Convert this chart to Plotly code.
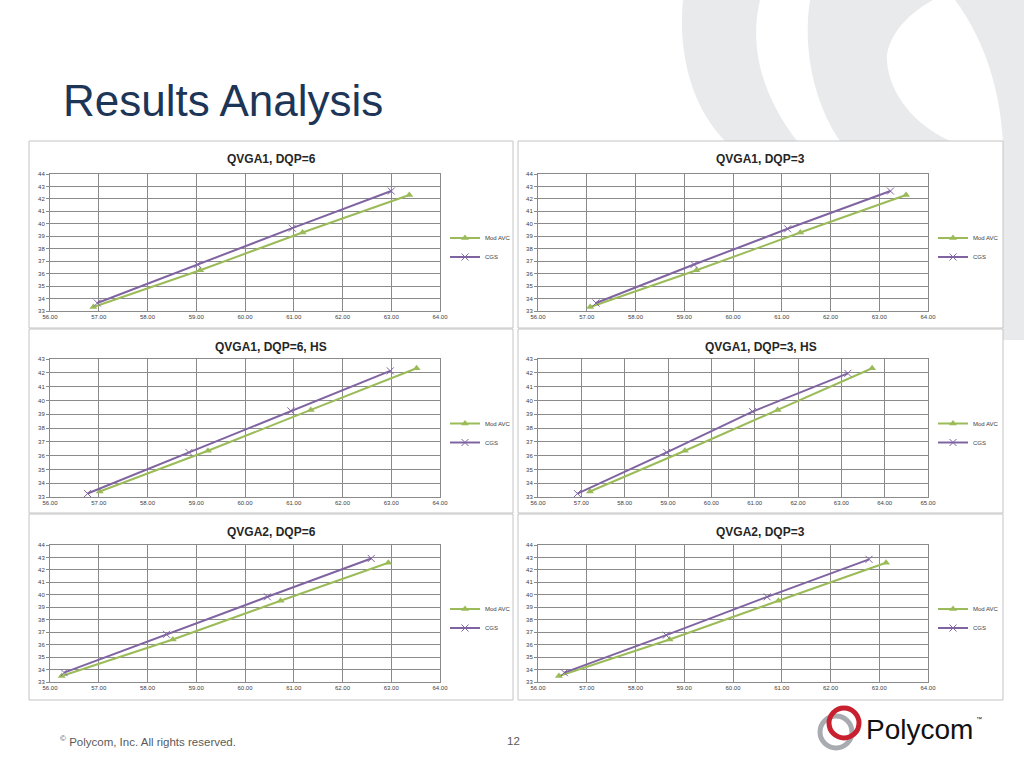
import plotly.graph_objects as go

# chart data
titles = ["QVGA1, DQP=6", "QVGA1, DQP=3", "QVGA1, DQP=6, HS",
          "QVGA1, DQP=3, HS", "QVGA2, DQP=6", "QVGA2, DQP=3"]
series_names = ["Mod AVC", "CGS"]

mod_x1 = [56.89, 59.08, 61.18, 63.37]
mod_y1 = [33.32, 36.27, 39.30, 42.31]
cgs_x1 = [56.97, 59.03, 60.97, 63.00]
cgs_y1 = [33.64, 36.73, 39.65, 42.63]

mod_x2 = [57.07, 59.25, 61.38, 63.55]
mod_y2 = [33.32, 36.27, 39.30, 42.31]
cgs_x2 = [57.19, 59.20, 61.12, 63.23]
cgs_y2 = [33.64, 36.73, 39.60, 42.63]

mod_x3 = [57.02, 59.24, 61.35, 63.52]
mod_y3 = [33.40, 36.35, 39.31, 42.33]
cgs_x3 = [56.77, 58.85, 60.94, 62.98]
cgs_y3 = [33.25, 36.23, 39.24, 42.14]

mod_x4 = [57.20, 59.39, 61.53, 63.71]
mod_y4 = [33.40, 36.35, 39.31, 42.33]
cgs_x4 = [56.91, 58.97, 60.95, 63.15]
cgs_y4 = [33.25, 36.23, 39.19, 41.96]

mod_x5 = [56.24, 58.52, 60.73, 62.94]
mod_y5 = [33.48, 36.41, 39.52, 42.58]
cgs_x5 = [56.29, 58.39, 60.46, 62.59]
cgs_y5 = [33.75, 36.83, 39.84, 42.92]

mod_x6 = [56.43, 58.70, 60.93, 63.14]
mod_y6 = [33.48, 36.41, 39.52, 42.58]
cgs_x6 = [56.54, 58.63, 60.70, 62.79]
cgs_y6 = [33.75, 36.76, 39.84, 42.85]

x_ranges = [[56, 64], [56, 64], [56, 64], [56, 65], [56, 64], [56, 64]]
y_ranges = [[33, 44], [33, 44], [33, 43], [33, 43], [33, 44], [33, 44]]

mods = [(mod_x1, mod_y1), (mod_x2, mod_y2), (mod_x3, mod_y3),
        (mod_x4, mod_y4), (mod_x5, mod_y5), (mod_x6, mod_y6)]
cgss = [(cgs_x1, cgs_y1), (cgs_x2, cgs_y2), (cgs_x3, cgs_y3),
        (cgs_x4, cgs_y4), (cgs_x5, cgs_y5), (cgs_x6, cgs_y6)]

W, H = 1024, 768
GREEN = "#9bbb59"
PURPLE = "#8064a2"
GRID = "#8a8a8a"


def px(p):
    return p / W


def py(p):
    return 1 - p / H


# page layout in pixels
cols = [(50, 440), (538, 928)]
rows = [(174, 311), (359, 497), (545, 682)]
panel_cols = [(29, 513), (518, 1003)]
panel_rows = [(141, 328), (329, 513), (514, 700)]

fig = go.Figure()
layout = {}
annotations = []
shapes = []

# grey background swooshes (top right of slide)
swooshes = [
    "M 683 0 C 678 50 690 105 725 141 L 797 141 C 765 100 748 50 760 0 Z",
    "M 810 0 L 933 0 C 905 15 885 40 887 62 C 890 95 915 125 950 141 "
    "L 840 141 C 815 105 802 50 810 0 Z",
    "M 955 0 L 1024 0 L 1024 340 L 1003 340 L 1003 141 C 1000 90 985 40 955 0 Z",
]
for d in swooshes:
    # convert pixel path to paper coords
    toks = d.split()
    out = []
    i = 0
    while i < len(toks):
        t = toks[i]
        if t.isalpha():
            out.append(t)
            i += 1
        else:
            out.append("%.5f,%.5f" % (px(float(toks[i])), py(float(toks[i + 1]))))
            i += 2
    shapes.append(dict(type="path", xref="paper", yref="paper", path=" ".join(out),
                       fillcolor="#e8eaec", line=dict(width=0), layer="below"))

# chart panels
for (r0, r1) in panel_rows:
    for (c0, c1) in panel_cols:
        shapes.append(dict(type="rect", xref="paper", yref="paper",
                           x0=px(c0), x1=px(c1), y0=py(r1), y1=py(r0),
                           fillcolor="white", line=dict(color="#c4c4c4", width=1),
                           layer="below"))

for k in range(6):
    r, c = divmod(k, 2)
    n = "" if k == 0 else str(k + 1)
    xa, ya = "x" + n, "y" + n
    lg = "legend" + n
    mx, my = mods[k]
    cx, cy = cgss[k]
    fig.add_trace(go.Scatter(
        x=mx, y=my, name=series_names[0], mode="lines+markers", xaxis=xa, yaxis=ya,
        legend=lg, line=dict(color=GREEN, width=2),
        marker=dict(symbol="triangle-up", size=7, color=GREEN)))
    fig.add_trace(go.Scatter(
        x=cx, y=cy, name=series_names[1], mode="lines+markers", xaxis=xa, yaxis=ya,
        legend=lg, line=dict(color=PURPLE, width=2),
        marker=dict(symbol="x-thin-open", size=7, color=PURPLE,
                    line=dict(color=PURPLE, width=1))))

    layout["xaxis" + n] = dict(
        domain=[px(cols[c][0]), px(cols[c][1])], anchor=ya, range=x_ranges[k],
        dtick=1, tickformat=".2f", showgrid=True, gridcolor=GRID, gridwidth=1,
        showline=True, mirror=True, linecolor=GRID, linewidth=1, zeroline=False,
        ticks="", tickfont=dict(size=6, color="#404040", family="Liberation Sans"),
        automargin=False, fixedrange=True)
    layout["yaxis" + n] = dict(
        domain=[py(rows[r][1]), py(rows[r][0])], anchor=xa, range=y_ranges[k],
        dtick=1, showgrid=True, gridcolor=GRID, gridwidth=1,
        showline=True, mirror=True, linecolor=GRID, linewidth=1, zeroline=False,
        ticks="outside", ticklen=3, tickcolor=GRID,
        tickfont=dict(size=6, color="#404040", family="Liberation Sans"),
        automargin=False, fixedrange=True)

    ly = (rows[r][0] + rows[r][1]) / 2 + 5
    layout[lg] = dict(
        x=px(cols[c][1] + 5), y=py(ly), xanchor="left", yanchor="middle",
        xref="paper", yref="paper", bgcolor="rgba(0,0,0,0)", itemwidth=30,
        font=dict(size=6, color="#404040", family="Liberation Sans"),
        tracegroupgap=0)

    annotations.append(dict(
        text="<b>" + titles[k] + "</b>", x=px(sum(panel_cols[c]) / 2),
        y=py(panel_rows[r][0] + 18), xref="paper", yref="paper",
        xanchor="center", yanchor="middle", showarrow=False,
        font=dict(size=12, color="#262626", family="Liberation Sans")))

# slide texts
annotations.append(dict(text="Results Analysis", x=px(61), y=py(101), xref="paper",
                        yref="paper", xanchor="left", yanchor="middle", showarrow=False,
                        font=dict(size=44, color="#1d3557", family="Liberation Sans")))
annotations.append(dict(text="<sup>©</sup> Polycom, Inc. All rights reserved.",
                        x=px(58), y=py(741), xref="paper", yref="paper",
                        xanchor="left", yanchor="middle", showarrow=False,
                        font=dict(size=11.5, color="#5a5a5a", family="Liberation Sans")))
annotations.append(dict(text="12", x=px(513), y=py(741), xref="paper", yref="paper",
                        xanchor="center", yanchor="middle", showarrow=False,
                        font=dict(size=11.5, color="#5a5a5a", family="Liberation Sans")))
annotations.append(dict(text="Polycom", x=px(864), y=py(729), xref="paper", yref="paper",
                        xanchor="left", yanchor="middle", showarrow=False,
                        font=dict(size=28, color="#111111", family="Liberation Sans")))
annotations.append(dict(text="™", x=px(974), y=py(719), xref="paper", yref="paper",
                        xanchor="left", yanchor="middle", showarrow=False,
                        font=dict(size=6, color="#111111", family="Liberation Sans")))

# polycom logo rings
shapes.append(dict(type="circle", xref="paper", yref="paper",
                   x0=px(820), x1=px(852), y0=py(748), y1=py(716),
                   line=dict(color="#a8acb0", width=5)))
shapes.append(dict(type="circle", xref="paper", yref="paper",
                   x0=px(829), x1=px(859), y0=py(738), y1=py(708),
                   line=dict(color="#c8202f", width=5)))

fig.update_layout(
    width=W, height=H, margin=dict(l=0, r=0, t=0, b=0, autoexpand=False),
    paper_bgcolor="white", plot_bgcolor="white",
    annotations=annotations, shapes=shapes, **layout)

# drop the default page margin so the 1024x768 figure fills the window exactly
fig.write_html("out.html", config={"displayModeBar": False},
               post_script="document.body.style.margin='0';"
                           "document.body.style.overflow='hidden';")
